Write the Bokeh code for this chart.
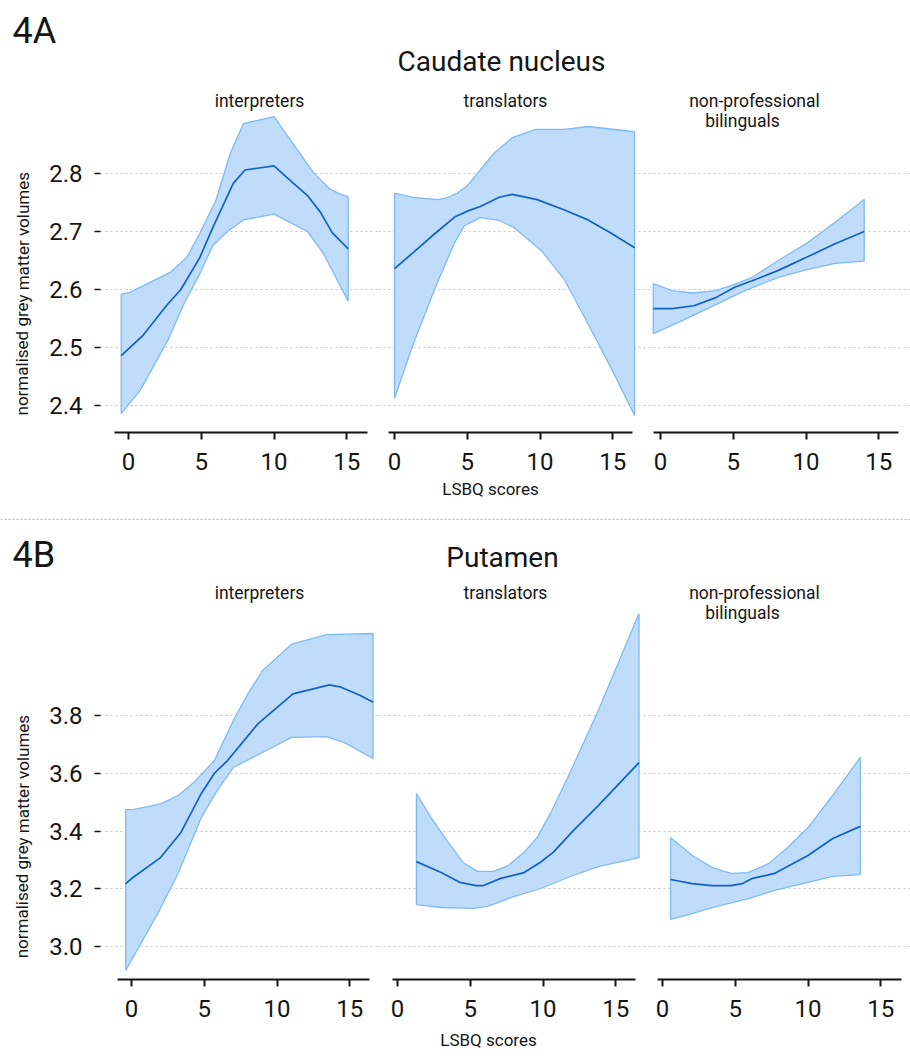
from bokeh.plotting import figure
from bokeh.models import Range1d, LinearAxis, Grid, FixedTicker, Label, Span, PrintfTickFormatter
from bokeh.layouts import row, column
from bokeh.embed import file_html
from bokeh.resources import INLINE

# ------------------------------------------------------------------ data
X_TICKS = [0, 5, 10, 15]
CAUDATE_TICKS = [2.4, 2.5, 2.6, 2.7, 2.8]
PUTAMEN_TICKS = [3.0, 3.2, 3.4, 3.6, 3.8]
STRIP_LINES = [["interpreters"], ["translators"], ["non-professional", "bilinguals"]]
X_LABEL = "LSBQ scores"
Y_LABEL = "normalised grey matter volumes"

# Caudate nucleus -- interpreters
cn_int_mean_x = [-0.5, 1.0, 2.7, 3.6, 4.9, 5.8, 7.2, 8.0, 10.0, 11.3, 12.3, 13.2, 14.0, 15.1]
cn_int_mean_y = [2.486, 2.521, 2.575, 2.600, 2.655, 2.707, 2.783, 2.806, 2.813, 2.784, 2.762, 2.733, 2.698, 2.670]
cn_int_up_x = [-0.5, 0.1, 2.9, 4.0, 4.9, 6.0, 7.0, 7.9, 10.0, 12.7, 13.8, 14.5, 15.1]
cn_int_up_y = [2.592, 2.595, 2.630, 2.655, 2.697, 2.753, 2.835, 2.886, 2.898, 2.802, 2.774, 2.765, 2.760]
cn_int_lo_x = [-0.5, 0.8, 2.7, 3.9, 4.9, 5.8, 6.8, 7.9, 10.0, 12.3, 13.4, 15.1]
cn_int_lo_y = [2.386, 2.426, 2.512, 2.580, 2.627, 2.676, 2.700, 2.720, 2.730, 2.700, 2.662, 2.580]

# Caudate nucleus -- translators
cn_tra_mean_x = [0.0, 1.3, 2.8, 4.2, 5.1, 5.9, 7.2, 8.1, 9.8, 11.6, 13.3, 14.9, 16.5]
cn_tra_mean_y = [2.636, 2.664, 2.697, 2.726, 2.736, 2.743, 2.759, 2.764, 2.755, 2.738, 2.720, 2.697, 2.672]
cn_tra_up_x = [0.0, 1.3, 3.0, 3.7, 4.3, 5.0, 5.7, 6.8, 8.1, 9.7, 11.7, 13.3, 16.5]
cn_tra_up_y = [2.766, 2.759, 2.755, 2.759, 2.766, 2.779, 2.800, 2.834, 2.862, 2.876, 2.876, 2.881, 2.872]
cn_tra_lo_x = [0.0, 1.3, 2.8, 4.1, 4.8, 5.9, 7.2, 8.2, 10.1, 11.7, 13.3, 14.9, 16.5]
cn_tra_lo_y = [2.412, 2.507, 2.603, 2.679, 2.710, 2.724, 2.719, 2.707, 2.667, 2.616, 2.541, 2.464, 2.383]

# Caudate nucleus -- non-professional bilinguals
cn_npb_mean_x = [-0.5, 0.8, 2.3, 3.8, 5.1, 6.3, 8.1, 10.0, 12.0, 14.0]
cn_npb_mean_y = [2.567, 2.567, 2.572, 2.586, 2.604, 2.615, 2.633, 2.655, 2.679, 2.700]
cn_npb_up_x = [-0.5, 0.8, 2.2, 3.8, 5.1, 6.3, 8.1, 10.0, 12.0, 14.0]
cn_npb_up_y = [2.610, 2.598, 2.594, 2.598, 2.609, 2.621, 2.650, 2.679, 2.716, 2.755]
cn_npb_lo_x = [-0.5, 1.2, 3.8, 5.8, 8.1, 10.0, 12.0, 14.0]
cn_npb_lo_y = [2.524, 2.543, 2.574, 2.598, 2.621, 2.634, 2.645, 2.649]

# Putamen -- interpreters
pu_int_mean_x = [-0.4, 0.1, 2.0, 3.4, 4.8, 5.7, 6.6, 8.7, 11.1, 13.6, 14.4, 15.7, 16.6]
pu_int_mean_y = [3.218, 3.239, 3.308, 3.395, 3.530, 3.600, 3.644, 3.772, 3.875, 3.906, 3.898, 3.870, 3.846]
pu_int_up_x = [-0.4, 0.1, 2.0, 3.2, 4.3, 5.7, 7.0, 8.0, 9.0, 11.0, 13.4, 16.6]
pu_int_up_y = [3.474, 3.474, 3.494, 3.523, 3.569, 3.644, 3.783, 3.875, 3.955, 4.047, 4.080, 4.084]
pu_int_lo_x = [-0.4, 1.8, 3.2, 4.8, 5.8, 7.0, 9.0, 11.0, 13.4, 14.6, 16.6]
pu_int_lo_y = [2.917, 3.114, 3.253, 3.447, 3.533, 3.620, 3.672, 3.724, 3.727, 3.707, 3.651]

# Putamen -- translators
pu_tra_mean_x = [1.3, 3.0, 4.3, 5.4, 5.9, 7.1, 8.7, 9.8, 10.7, 12.1, 13.8, 16.6]
pu_tra_mean_y = [3.294, 3.256, 3.222, 3.211, 3.211, 3.236, 3.256, 3.291, 3.326, 3.402, 3.488, 3.637]
pu_tra_up_x = [1.3, 2.3, 3.4, 4.5, 5.5, 6.6, 7.6, 8.7, 9.6, 10.5, 11.7, 13.8, 16.6]
pu_tra_up_y = [3.530, 3.447, 3.367, 3.291, 3.260, 3.260, 3.280, 3.326, 3.378, 3.460, 3.585, 3.817, 4.153]
pu_tra_lo_x = [1.3, 3.0, 5.2, 6.2, 8.0, 9.8, 11.7, 13.8, 16.6]
pu_tra_lo_y = [3.145, 3.135, 3.132, 3.139, 3.173, 3.200, 3.239, 3.277, 3.308]

# Putamen -- non-professional bilinguals
pu_npb_mean_x = [0.55, 2.05, 3.4, 4.7, 5.5, 6.2, 7.7, 10.0, 11.7, 13.6]
pu_npb_mean_y = [3.232, 3.218, 3.211, 3.211, 3.218, 3.236, 3.253, 3.315, 3.374, 3.416]
pu_npb_up_x = [0.55, 2.05, 3.4, 4.7, 5.9, 7.3, 8.6, 10.0, 11.7, 13.6]
pu_npb_up_y = [3.377, 3.315, 3.274, 3.253, 3.256, 3.287, 3.343, 3.412, 3.523, 3.655]
pu_npb_lo_x = [0.55, 2.05, 3.4, 5.9, 7.7, 10.0, 11.7, 13.6]
pu_npb_lo_y = [3.094, 3.114, 3.135, 3.166, 3.194, 3.222, 3.243, 3.249]

# ------------------------------------------------------------------ style / layout
FONT = "Roboto"
FILL = "#c0dcfb"
EDGE = "#7fbaf4"
MEAN = "#1261c4"
GRID = "#c4c4c4"
INK = "#151515"
W = 910
S = 14.55                                         # px per LSBQ unit
FRAMES = [(100, 378), (378, 643), (643, 910)]     # x extent of each panel frame
YLAB_W = 42                                       # strip holding the y title
STRIP_CX = [[259], [505], [754, 742]]


def blank(p):
    p.outline_line_color = None
    p.background_fill_color = None
    p.border_fill_color = None
    return p


def text_fig(w, h, x0, y0):
    """A figure whose frame is the whole canvas, in pixel-like coordinates."""
    p = figure(width=w, height=h, x_range=Range1d(x0, x0 + w), y_range=Range1d(y0 + h, y0),
               x_axis_type=None, y_axis_type=None, toolbar_location=None, output_backend="svg",
               min_border_left=0, min_border_right=0, min_border_top=0, min_border_bottom=0)
    return blank(p)


def lab(p, x, y, text, size, align="center", angle=0.0):
    p.add_layout(Label(x=x, y=y, text=text, text_font=FONT, text_font_size=f"{size}px",
                       text_color=INK, text_align=align, text_baseline="middle", angle=angle))


def panel_row(frame_top, frame_bottom, bottom_border, yref, yscale, yticks, zeros, spans,
              series, strip_mid, ylab_center):
    yv = lambda py: yref[0] - (py - yref[1]) / yscale
    yr = Range1d(yv(frame_bottom), yv(frame_top))
    h = frame_bottom - frame_top + bottom_border

    side = text_fig(YLAB_W, h, 0, frame_top)
    lab(side, 22, ylab_center, Y_LABEL, 17, angle=1.5707963)
    figs = [side]

    for i, ((fl, fr), z0, (a0, a1), (ux, uy, lx, ly, mx, my)) in enumerate(zip(FRAMES, zeros, spans, series)):
        left = fl - YLAB_W if i == 0 else 0
        w = fr - YLAB_W if i == 0 else fr - fl
        p = figure(width=w, height=h, x_axis_type=None, y_axis_type=None,
                   x_range=Range1d((fl - z0) / S, (fr - z0) / S), y_range=yr,
                   toolbar_location=None, output_backend="svg",
                   min_border_left=left, min_border_right=0,
                   min_border_top=0, min_border_bottom=bottom_border)
        blank(p)

        p.add_layout(Grid(dimension=1, ticker=FixedTicker(ticks=yticks), grid_line_color=GRID,
                          grid_line_dash="2 3", grid_line_width=1))

        xa = LinearAxis(ticker=FixedTicker(ticks=X_TICKS), bounds=((a0 - z0) / S, (a1 - z0) / S),
                        axis_line_color=INK, axis_line_width=2, major_tick_out=7, major_tick_in=0,
                        major_tick_line_color=INK, major_tick_line_width=2, minor_tick_line_color=None,
                        major_label_text_font=FONT, major_label_text_font_size="24px",
                        major_label_text_color=INK, major_label_standoff=13)
        p.add_layout(xa, "below")
        if i == 0:
            ya = LinearAxis(ticker=FixedTicker(ticks=yticks), formatter=PrintfTickFormatter(format="%.1f"),
                            axis_line_color=None, major_tick_out=6, major_tick_in=0,
                            major_tick_line_color=INK, major_tick_line_width=1.5,
                            minor_tick_line_color=None, major_label_text_font=FONT,
                            major_label_text_font_size="24px", major_label_text_color=INK,
                            major_label_standoff=12)
            p.add_layout(ya, "left")

        p.patch(ux + lx[::-1], uy + ly[::-1], fill_color=FILL, fill_alpha=1.0,
                line_color=EDGE, line_width=1.3)
        p.line(mx, my, line_color=MEAN, line_width=1.7)

        for j, (txt, cx) in enumerate(zip(STRIP_LINES[i], STRIP_CX[i])):
            lab(p, (cx - z0) / S, yv(strip_mid + 20 * j), txt, 17.5)
        figs.append(p)
    return row(*figs)


# --- header of section A
head = text_fig(W, 90, 0, 0)
lab(head, 12, 30.5, "4A", 36, align="left")
lab(head, 501, 61, "Caudate nucleus", 28)

top = panel_row(
    frame_top=90, frame_bottom=432, bottom_border=45,
    yref=(2.8, 173), yscale=580.0, yticks=CAUDATE_TICKS,
    zeros=[128, 394, 660], spans=[(114, 367), (388, 632), (653, 898)],
    series=[(cn_int_up_x, cn_int_up_y, cn_int_lo_x, cn_int_lo_y, cn_int_mean_x, cn_int_mean_y),
            (cn_tra_up_x, cn_tra_up_y, cn_tra_lo_x, cn_tra_lo_y, cn_tra_mean_x, cn_tra_mean_y),
            (cn_npb_up_x, cn_npb_up_y, cn_npb_lo_x, cn_npb_lo_y, cn_npb_mean_x, cn_npb_mean_y)],
    strip_mid=100.5, ylab_center=320)

# --- x title of A, separator, header of section B
mid = text_fig(W, 105, 0, 477)
lab(mid, 490, 488.5, X_LABEL, 17)
mid.add_layout(Span(location=519, dimension="width", line_color="#b4b4b4",
                    line_dash="2 2", line_width=1))
lab(mid, 12, 554, "4B", 36, align="left")
lab(mid, 502, 557, "Putamen", 28)

bottom = panel_row(
    frame_top=582, frame_bottom=979, bottom_border=42,
    yref=(3.8, 715), yscale=288.75, yticks=PUTAMEN_TICKS,
    zeros=[131, 397, 662], spans=[(117, 369), (392, 635), (657, 901)],
    series=[(pu_int_up_x, pu_int_up_y, pu_int_lo_x, pu_int_lo_y, pu_int_mean_x, pu_int_mean_y),
            (pu_tra_up_x, pu_tra_up_y, pu_tra_lo_x, pu_tra_lo_y, pu_tra_mean_x, pu_tra_mean_y),
            (pu_npb_up_x, pu_npb_up_y, pu_npb_lo_x, pu_npb_lo_y, pu_npb_mean_x, pu_npb_mean_y)],
    strip_mid=592.5, ylab_center=863)

foot = text_fig(W, 31, 0, 1021)
lab(foot, 488, 1039, X_LABEL, 17)

layout = column(head, top, mid, bottom, foot)
open("out.html", "w").write(file_html(layout, INLINE))
